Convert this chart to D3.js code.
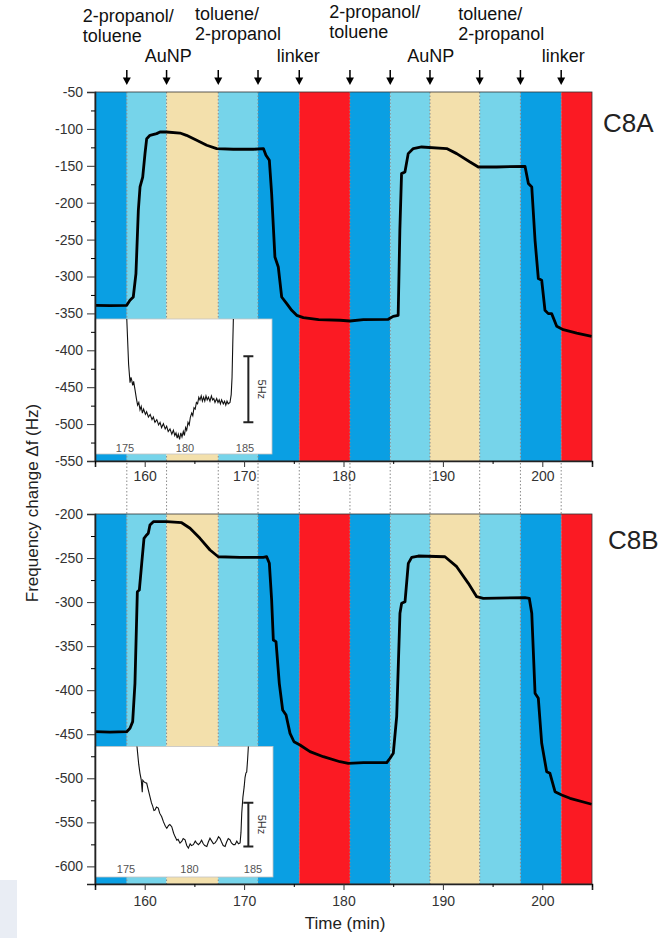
<!DOCTYPE html>
<html>
<head>
<meta charset="utf-8">
<script src="https://cdn.jsdelivr.net/npm/d3@7"></script>
<style>
  body { margin: 0; background: #fff; }
  text { font-family: "Liberation Sans", Arial, sans-serif; }
</style>
</head>
<body>
<div id="chart"></div>
<script>
// solvent / injection sequence (minutes)
var bandEdges = [155, 158.2, 162.2, 167.4, 171.4, 175.55, 180.65, 184.7, 188.7, 193.7, 197.8, 201.9, 205];
var bandKinds = ['solvent', 'mixed', 'aunp', 'mixed', 'solvent', 'linker', 'solvent', 'mixed', 'aunp', 'mixed', 'solvent', 'linker'];
var arrowTimes = [158.2, 162.2, 167.4, 171.4, 175.55, 180.65, 184.7, 188.7, 193.7, 197.8, 201.9];
var stepLabels = ['2-propanol/\ntoluene', 'AuNP', 'toluene/\n2-propanol', 'linker', '2-propanol/\ntoluene', 'AuNP', 'toluene/\n2-propanol', 'linker'];
var stepLabelTimes = [153.76, 160.0, 165.06, 173.28, 178.57, 186.42, 191.55, 199.94];

var xTicks = [160, 170, 180, 190, 200];
var xMinorTicks = [155, 165, 175, 185, 195, 205];
var yTicksA = [-50, -100, -150, -200, -250, -300, -350, -400, -450, -500, -550];
var yMinorA = [-75, -125, -175, -225, -275, -325, -375, -425, -475, -525];
var yTicksB = [-200, -250, -300, -350, -400, -450, -500, -550, -600];
var yMinorB = [-225, -275, -325, -375, -425, -475, -525, -575];
var insetTicks = [175, 180, 185];

// C8A trace
var c8aTime = [155.0, 156.5, 158.19, 158.52, 158.85, 159.12, 159.36, 159.53, 159.80, 160.03, 160.20, 160.53, 161.20, 161.54,
  162.20, 163.55, 164.20, 165.23, 166.24, 167.24, 168.91, 170.93, 171.94, 172.20, 172.54, 172.77, 173.10, 173.44, 173.78,
  174.29, 174.79, 175.29, 175.96, 177.5, 179.65, 180.65, 182.0, 184.5, 185.0, 185.5, 185.67, 185.84, 186.18, 186.51, 187.02,
  187.86, 190.38, 191.39, 192.73, 193.56, 195.41, 198.26, 198.60, 198.94, 199.27, 199.60, 199.94, 200.27, 200.60, 200.94,
  201.45, 202.11, 203.46, 204.97];
var c8aShift = [-339, -339.5, -339, -332.3, -327.8, -296, -210.3, -178.7, -165.2, -133.5, -113.2, -108.7, -106.4, -104.2,
  -104.2, -105.6, -108.7, -115.4, -122.2, -126.7, -127.6, -127.6, -126.7, -135.8, -142.5, -187.7, -273.6, -287.1, -327.8,
  -336.7, -345.8, -352.6, -355.7, -358.5, -359.3, -360.3, -358.4, -358, -354, -352.6, -237.4, -160.6, -158.4, -133.5, -126.7,
  -124.5, -126.7, -133.5, -144.9, -151.6, -151.6, -150.7, -174.1, -178.7, -250.9, -302.8, -305.1, -345.8, -350.3, -350.3,
  -367.5, -372, -376.6, -381];

// C8B trace
var c8bTime = [155.0, 156.5, 158.19, 158.52, 158.79, 159.02, 159.26, 159.46, 159.70, 159.93, 160.20, 160.36, 160.53, 160.87,
  162.21, 163.72, 164.56, 165.56, 166.57, 167.40, 169.59, 171.93, 172.27, 172.54, 172.77, 172.94, 173.21, 173.54, 173.88,
  174.22, 174.62, 175.02, 175.62, 176.63, 177.97, 179.65, 180.48, 182.0, 184.35, 184.68, 185.01, 185.35, 185.68, 185.85,
  186.19, 186.52, 186.86, 187.53, 190.21, 191.39, 192.56, 193.40, 194.06, 198.26, 198.69, 198.94, 199.27, 199.60, 199.94,
  200.44, 200.77, 201.28, 201.95, 202.79, 204.97];
var c8bShift = [-447.1, -447.5, -447.1, -443.3, -435.7, -392.2, -288.2, -286.3, -256, -227.6, -223.8, -221.9, -212.5, -208.7,
  -208.7, -209.9, -216.2, -227.6, -240.9, -248.5, -249.2, -249.2, -248.5, -256, -297.6, -343, -344.9, -392.2, -422.5,
  -428.2, -449, -458.5, -462.2, -469.8, -475.5, -481.2, -483, -482.3, -482.3, -477.3, -471.6, -430, -312.7, -301.4,
  -299.5, -256, -249.2, -247.7, -248.5, -259.8, -278.7, -293.9, -295.7, -295, -295.7, -312.7, -403.5, -409.2, -460.3,
  -492.5, -494.3, -515.2, -518.9, -522.7, -529.5];

// zoomed linker step, C8A
var insetATime = [175.10, 175.30, 175.42, 175.50, 175.56, 175.64, 175.72, 175.83, 175.95, 176.05, 176.15, 176.25, 176.35,
  176.45, 176.55, 176.70, 176.80, 176.95, 177.10, 177.25, 177.36, 177.50, 177.65, 177.80, 177.92, 178.05, 178.20, 178.35,
  178.47, 178.60, 178.75, 178.90, 179.03, 179.15, 179.25, 179.35, 179.44, 179.55, 179.65, 179.75, 179.86, 179.95, 180.05,
  180.14, 180.25, 180.35, 180.45, 180.56, 180.65, 180.75, 180.85, 180.95, 181.05, 181.15, 181.25, 181.35, 181.45, 181.55,
  181.65, 181.75, 181.85, 181.95, 182.08, 182.20, 182.30, 182.40, 182.50, 182.64, 182.75, 182.85, 182.95, 183.05, 183.19,
  183.30, 183.40, 183.50, 183.60, 183.75, 183.85, 183.92, 183.98, 184.03, 184.08];
var insetAShift = [-352.0, -356.5, -357.9, -357.5, -357.7, -358.1, -357.8, -358.4, -359.1, -359.6, -359.4, -359.95, -359.7,
  -360.2, -359.9, -360.3, -360.1, -360.5, -360.3, -360.7, -360.5, -360.9, -360.7, -361.1, -360.9, -361.3, -361.0, -361.4,
  -361.2, -361.6, -361.4, -361.8, -361.5, -361.9, -361.7, -362.1, -361.8, -362.2, -361.7, -362.0, -361.6, -361.9, -361.3,
  -361.5, -360.9, -361.1, -360.5, -360.2, -360.4, -359.8, -359.9, -359.4, -359.5, -359.0, -359.2, -358.9, -359.3, -359.0,
  -359.3, -358.9, -359.2, -359.0, -359.3, -358.9, -359.2, -359.1, -359.4, -359.1, -359.4, -359.2, -359.5, -359.2, -359.5,
  -359.3, -359.6, -359.3, -359.5, -359.4, -358.8, -357.5, -355.0, -353.1, -351.0];

// zoomed linker step, C8B
var insetBTime = [175.80, 175.90, 176.00, 176.10, 176.20, 176.28, 176.32, 176.40, 176.50, 176.63, 176.75, 176.89, 177.00,
  177.10, 177.20, 177.28, 177.40, 177.54, 177.65, 177.81, 177.95, 178.10, 178.21, 178.35, 178.45, 178.60, 178.75, 178.86,
  179.00, 179.10, 179.25, 179.40, 179.50, 179.65, 179.78, 179.91, 180.05, 180.15, 180.30, 180.45, 180.55, 180.70, 180.83,
  180.95, 181.08, 181.20, 181.36, 181.48, 181.61, 181.75, 181.88, 182.01, 182.15, 182.28, 182.40, 182.52, 182.65, 182.80,
  182.92, 183.05, 183.19, 183.30, 183.45, 183.58, 183.72, 183.85, 183.98, 184.05, 184.11, 184.20, 184.30, 184.37, 184.44,
  184.50, 184.57, 184.63, 184.70];
var insetBShift = [-472.0, -473.5, -475.0, -476.05, -476.8, -478.2, -476.84, -477.0, -477.1, -477.18, -477.9, -478.74, -479.4,
  -479.8, -480.3, -480.25, -479.9, -480.02, -480.6, -481.01, -481.6, -482.1, -482.33, -482.0, -481.9, -482.15, -482.9, -483.28,
  -483.7, -483.6, -484.03, -483.8, -483.5, -483.66, -484.3, -484.6, -484.1, -484.3, -484.2, -483.8, -484.0, -484.2, -484.0,
  -483.7, -484.1, -484.3, -484.4, -483.9, -483.47, -483.8, -484.1, -484.0, -483.7, -483.3, -483.47, -483.9, -484.3, -484.4,
  -483.9, -483.5, -483.66, -484.0, -484.2, -484.2, -483.8, -484.1, -484.0, -482.8, -480.6, -478.8, -477.6, -476.5, -476.0,
  -475.9, -474.5, -473.0, -471.0];

var bandColor = { solvent: '#0a9fe3', mixed: '#76d4ea', aunp: '#f3e0ac', linker: '#fb1a23' };
var labelBaseline = [22, 62, 20, 62, 17.5, 62, 19.5, 62];

var svg = d3.select('#chart').append('svg')
  .attr('width', 670).attr('height', 938);

var x = d3.scaleLinear().domain([155, 205]).range([95, 592]);

var panels = [
  {
    name: 'C8A', nameX: 603, nameY: 132, labelPad: 4,
    y: d3.scaleLinear().domain([-550, -50]).range([461, 92]),
    ticks: yTicksA, minor: yMinorA, time: c8aTime, shift: c8aShift,
    inset: {
      id: 'clipA', x0: 95, x1: 272, y0: 319, y1: 454,
      x: d3.scaleLinear().domain([172.5, 187.25]).range([95, 272]),
      y: d3.scaleLinear().domain([-363.3, -353.1]).range([454, 319.3]),
      time: insetATime, shift: insetAShift, barT: 185.28, barTop: -355.9, labelY: 452
    }
  },
  {
    name: 'C8B', nameX: 608, nameY: 549, labelPad: 6,
    y: d3.scaleLinear().domain([-620, -200]).range([884, 514]),
    ticks: yTicksB, minor: yMinorB, time: c8bTime, shift: c8bShift,
    inset: {
      id: 'clipB', x0: 95, x1: 273, y0: 746.5, y1: 877,
      x: d3.scaleLinear().domain([172.56, 186.57]).range([95, 273]),
      y: d3.scaleLinear().domain([-487.9, -473.0]).range([877, 746.7]),
      time: insetBTime, shift: insetBShift, barT: 184.63, barTop: -479.4, labelY: 873
    }
  }
];

// stray grey patch in the lower left corner
svg.append('rect').attr('x', 0).attr('y', 880).attr('width', 17).attr('height', 58).attr('fill', '#e9edf4');

// solvent bands
panels.forEach(function (p) {
  var top = p.y.range()[1], bottom = p.y.range()[0];
  svg.append('g').selectAll('rect').data(bandKinds).enter().append('rect')
    .attr('x', function (d, i) { return x(bandEdges[i]); })
    .attr('width', function (d, i) { return x(bandEdges[i + 1]) - x(bandEdges[i]); })
    .attr('y', top).attr('height', bottom - top)
    .attr('fill', function (d) { return bandColor[d]; });
});

// dotted guides through both panels
svg.append('g').selectAll('line').data(arrowTimes).enter().append('line')
  .attr('x1', function (d) { return x(d); }).attr('x2', function (d) { return x(d); })
  .attr('y1', 92).attr('y2', 884)
  .attr('stroke', '#8a8a8a').attr('stroke-width', 1).attr('stroke-dasharray', '1.5,2');

panels.forEach(function (p) {
  var ins = p.inset;
  var defs = svg.append('defs');
  defs.append('clipPath').attr('id', ins.id).append('rect')
    .attr('x', ins.x0).attr('y', ins.y0).attr('width', ins.x1 - ins.x0).attr('height', ins.y1 - ins.y0);
  var g = svg.append('g');
  g.append('rect')
    .attr('x', ins.x0).attr('y', ins.y0).attr('width', ins.x1 - ins.x0).attr('height', ins.y1 - ins.y0)
    .attr('fill', '#fff').attr('stroke', '#c4c4c4').attr('stroke-width', 0.8);
  var insetLine = d3.line()
    .x(function (d) { return ins.x(d[0]); })
    .y(function (d) { return ins.y(d[1]); });
  g.append('path')
    .attr('clip-path', 'url(#' + ins.id + ')')
    .attr('d', insetLine(d3.zip(ins.time, ins.shift)))
    .attr('fill', 'none').attr('stroke', '#111').attr('stroke-width', 1.1);
  g.selectAll('text.it').data(insetTicks).enter().append('text')
    .attr('class', 'it')
    .attr('x', function (d) { return ins.x(d); }).attr('y', ins.labelY)
    .attr('text-anchor', 'middle').attr('font-size', 11).attr('fill', '#555')
    .text(function (d) { return d; });
  // 5 Hz scale bar
  var bx = ins.x(ins.barT), by0 = ins.y(ins.barTop), by1 = ins.y(ins.barTop - 5);
  g.append('path')
    .attr('d', 'M' + bx + ',' + by0 + 'V' + by1 + 'M' + (bx - 5) + ',' + by0 + 'H' + (bx + 5) + 'M' + (bx - 5) + ',' + by1 + 'H' + (bx + 5))
    .attr('stroke', '#222').attr('stroke-width', 2).attr('fill', 'none');
  g.append('text')
    .attr('transform', 'translate(' + (bx + 10) + ',' + ((by0 + by1) / 2) + ') rotate(90)')
    .attr('text-anchor', 'middle').attr('font-size', 11).attr('fill', '#333')
    .text('5Hz');
});

panels.forEach(function (p) {
  var top = p.y.range()[1], bottom = p.y.range()[0];
  var line = d3.line()
    .x(function (d) { return x(d[0]); })
    .y(function (d) { return p.y(d[1]); });
  svg.append('path')
    .attr('d', line(d3.zip(p.time, p.shift)))
    .attr('fill', 'none').attr('stroke', '#000').attr('stroke-width', 2.8)
    .attr('stroke-linejoin', 'round');

  svg.append('rect')
    .attr('x', 95).attr('y', top).attr('width', 497).attr('height', bottom - top)
    .attr('fill', 'none').attr('stroke', '#333').attr('stroke-width', 0.8);

  var yAxis = svg.append('g').attr('transform', 'translate(95,0)')
    .call(d3.axisLeft(p.y).tickValues(p.ticks).tickSize(8).tickPadding(4)
      .tickFormat(function (d) { return String(d); }));
  svg.append('g').attr('transform', 'translate(95,0)')
    .call(d3.axisLeft(p.y).tickValues(p.minor).tickSize(4).tickFormat(''))
    .select('.domain').remove();
  var xAxis = svg.append('g').attr('transform', 'translate(0,' + bottom + ')')
    .call(d3.axisBottom(x).tickValues(xTicks).tickSize(6).tickPadding(p.labelPad)
      .tickFormat(function (d) { return String(d); }));
  svg.append('g').attr('transform', 'translate(0,' + bottom + ')')
    .call(d3.axisBottom(x).tickValues(xMinorTicks).tickSize(3).tickFormat(''))
    .select('.domain').remove();
  [yAxis, xAxis].forEach(function (a) {
    a.select('.domain').attr('stroke', '#222').attr('stroke-width', 1.6);
    a.selectAll('.tick line').attr('stroke', '#333');
    a.selectAll('text').attr('font-size', 14).attr('fill', '#333')
      .attr('font-family', '"Liberation Sans", Arial, sans-serif');
  });

  svg.append('text')
    .attr('x', p.nameX).attr('y', p.nameY)
    .attr('font-size', 26).attr('fill', '#222')
    .text(p.name);
});

// injection arrows and step labels
var arrows = svg.append('g');
arrowTimes.forEach(function (t) {
  var ax = x(t);
  arrows.append('line').attr('x1', ax).attr('x2', ax).attr('y1', 70).attr('y2', 79)
    .attr('stroke', '#000').attr('stroke-width', 1.5);
  arrows.append('path')
    .attr('d', 'M' + (ax - 4) + ',77.5L' + (ax + 4) + ',77.5L' + ax + ',85Z')
    .attr('fill', '#000');
});

stepLabels.forEach(function (s, i) {
  var lx = x(stepLabelTimes[i]);
  var t = svg.append('text')
    .attr('x', lx).attr('y', labelBaseline[i])
    .attr('font-size', 18).attr('fill', '#111');
  s.split('\n').forEach(function (l, j) {
    t.append('tspan').attr('x', lx).attr('dy', j === 0 ? 0 : 20).text(l);
  });
});

svg.append('text')
  .attr('transform', 'translate(38,503) rotate(-90)')
  .attr('text-anchor', 'middle').attr('font-size', 17).attr('fill', '#222')
  .text('Frequency change \u0394f (Hz)');

svg.append('text')
  .attr('x', 345).attr('y', 929)
  .attr('text-anchor', 'middle').attr('font-size', 17).attr('fill', '#222')
  .text('Time (min)');
</script>
</body>
</html>
